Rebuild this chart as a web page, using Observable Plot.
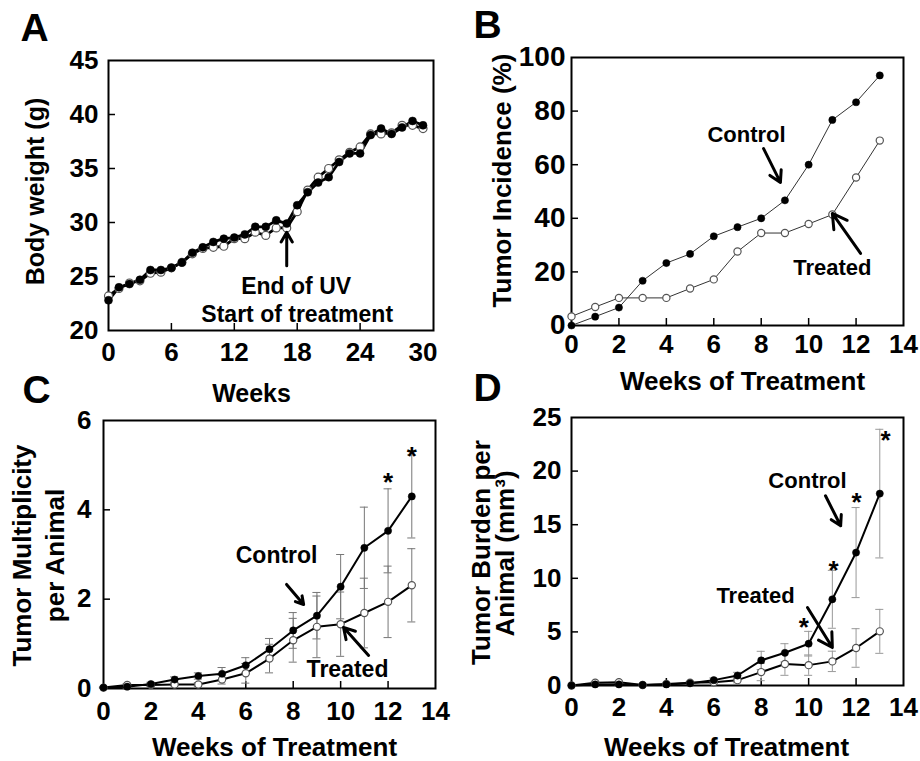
<!DOCTYPE html>
<html><head><meta charset="utf-8">
<script src="https://cdn.jsdelivr.net/npm/d3@7"></script>
<script src="https://cdn.jsdelivr.net/npm/@observablehq/plot@0.6"></script>
<style>
body{margin:0;background:#fff;}
#root{position:relative;width:920px;height:761px;overflow:hidden;background:#fff;}
#root svg{position:absolute;left:0;top:0;}
</style></head><body><div id="root"></div>
<script>
// ---------- Panel A: body weight ----------
const weeksA = [0,1,2,3,4,5,6,7,8,9,10,11,12,13,14,15,16,17,18,19,20,21,22,23,24,25,26,27,28,29,30];
const weightControl = [22.8,24.0,24.3,24.7,25.6,25.6,25.8,26.3,27.2,27.7,28.2,28.5,28.6,28.9,29.6,29.6,30.2,29.9,31.6,32.8,33.7,34.2,35.6,36.4,36.4,38.1,38.7,38.2,38.8,39.4,39.0];
const weightTreated = [23.2,23.9,24.4,24.6,25.3,25.4,25.8,26.3,27.1,27.6,27.7,27.8,28.5,28.5,29.1,28.8,29.5,29.5,31.0,33.0,34.2,35.0,35.8,36.5,37.0,38.2,38.2,38.3,39.0,39.0,38.7];
const xTicksA = [0,6,12,18,24,30];
const yTicksA = [20,25,30,35,40,45];

// ---------- Panels B-D: weeks of treatment ----------
const weeks = [0,1,2,3,4,5,6,7,8,9,10,11,12,13];
const incidenceControl = [0,3.3,6.7,16.7,23.3,26.7,33.3,36.7,40.0,46.7,60.0,76.7,83.3,93.3];
const incidenceTreated = [3.4,6.9,10.3,10.3,10.3,13.8,17.2,27.6,34.5,34.5,37.9,41.4,55.2,69.0];

const multiplicityControl = [0.02,0.04,0.10,0.20,0.28,0.33,0.52,0.88,1.30,1.63,2.28,3.15,3.53,4.30];
const multiplicityControlSem = [0.01,0.03,0.04,0.06,0.07,0.14,0.17,0.24,0.40,0.52,0.72,0.91,0.94,0.93];
const multiplicityTreated = [0.02,0.08,0.08,0.09,0.09,0.20,0.34,0.67,1.08,1.38,1.44,1.69,1.94,2.31];
const multiplicityTreatedSem = [0.01,0.03,0.03,0.03,0.04,0.10,0.22,0.32,0.49,0.69,0.72,0.78,0.80,0.82];

const burdenControl = [0,0.1,0.1,0.05,0.1,0.2,0.5,0.93,2.34,3.05,3.9,8.04,12.4,17.9];
const burdenControlSem = [0,0.05,0.05,0.03,0.05,0.1,0.2,0.3,0.85,0.85,1.15,2.7,4.2,6.0];
const burdenTreated = [0,0.25,0.3,0.05,0.15,0.25,0.3,0.5,1.25,2.0,1.9,2.25,3.5,5.05];
const burdenTreatedSem = [0,0.1,0.1,0.03,0.05,0.1,0.15,0.25,0.8,1.05,0.95,0.95,1.8,2.05];

const xTicksT = [0,2,4,6,8,10,12,14];
const yTicksB = [0,20,40,60,80,100];
const yTicksC = [0,2,4,6];
const yTicksD = [0,5,10,15,20,25];

// ---------- annotations (data coordinates) ----------
const notesA = [{x:17.9, y:23.4, text:"End of UV"}, {x:18.0, y:20.8, text:"Start of treatment"}];
const arrowsA = [{x1:17, y1:26.0, x2:17, y2:29.1}];
const notesB = [{x:7.38, y:68.3, text:"Control"}, {x:11.0, y:18.7, text:"Treated"}];
const arrowsB = [{x1:8.1, y1:66.0, x2:8.81, y2:53.4}, {x1:12.19, y1:26.9, x2:11.0, y2:41.8}];
const notesC = [{x:7.3, y:2.82, text:"Control"}, {x:10.29, y:0.25, text:"Treated"}];
const arrowsC = [{x1:7.72, y1:2.33, x2:8.44, y2:1.88}, {x1:11.18, y1:0.74, x2:10.12, y2:1.37}];
const starsC = [{x:12, y:4.75}, {x:13, y:5.33}];
const notesD = [{x:9.95, y:18.47, text:"Control"}, {x:7.76, y:7.65, text:"Treated"}];
const arrowsD = [{x1:10.71, y1:17.7, x2:11.35, y2:14.9}, {x1:9.95, y1:7.28, x2:11.0, y2:3.54}];
const starsD = [{x:9.8, y:6.06}, {x:11.05, y:11.38}, {x:12.02, y:17.72}, {x:13.24, y:23.5}];

// ---------- helpers ----------
const W = 920, H = 761;
const FONT = "'Liberation Sans', Arial, Helvetica, sans-serif";
const rows = (xs, ys, sem) => xs.map((x, i) => ({week: x, value: ys[i], sem: sem ? sem[i] : 0}));

function panel(cfg) {
  const [fx0, fy0, fx1, fy1] = cfg.frame;
  const y0 = cfg.yDomain[0], x0 = cfg.xDomain[0];
  const marks = [
    Plot.frame({stroke: "black", strokeWidth: 2}),
    Plot.ruleX(cfg.xInner, {x: d => d, y1: y0, y2: y0, insetTop: -7, stroke: "black", strokeWidth: 1.5}),
    Plot.ruleY(cfg.yInner, {y: d => d, x1: x0, x2: x0, insetRight: -7, stroke: "black", strokeWidth: 1.5}),
    Plot.axisX(cfg.xTicks, {anchor: "bottom", tickSize: 0, tickPadding: cfg.xPad, fontSize: 26, label: null}),
    Plot.axisY(cfg.yTicks, {anchor: "left", tickSize: 0, tickPadding: cfg.yPad, fontSize: cfg.yFont || 26, label: null}),
    Plot.text([cfg.letter], {text: d => d, frameAnchor: "top-left", dx: cfg.letterPos[0], dy: cfg.letterPos[1], textAnchor: "start", lineAnchor: "bottom", fontSize: 39}),
    Plot.text([cfg.xTitle], {text: d => d, frameAnchor: "bottom", dx: cfg.xTitlePos[0], dy: cfg.xTitlePos[1], textAnchor: "middle", lineAnchor: "middle", fontSize: cfg.xTitleFont || 26}),
    ...cfg.yTitles.map(t => Plot.text([t.text], {text: d => d, frameAnchor: "left", dx: t.dx, dy: t.dy, rotate: -90, textAnchor: "middle", lineAnchor: "middle", fontSize: t.size || 26})),
    ...cfg.marks
  ];
  return Plot.plot({
    width: W, height: H,
    marginLeft: fx0, marginRight: W - fx1, marginTop: fy0, marginBottom: H - fy1,
    x: {domain: cfg.xDomain, nice: false, label: null},
    y: {domain: cfg.yDomain, nice: false, label: null},
    style: {fontFamily: FONT, fontWeight: "bold", background: "transparent", color: "black", overflow: "visible"},
    marks
  });
}

function errorBars(data, color) {
  const d = data.filter(r => r.sem > 0);
  return [
    Plot.ruleX(d, {x: "week", y1: r => r.value - r.sem, y2: r => r.value + r.sem, stroke: color, strokeWidth: 1}),
    Plot.ruleY(d, {y: r => r.value + r.sem, x1: r => r.week - 0.17, x2: r => r.week + 0.17, stroke: color, strokeWidth: 1}),
    Plot.ruleY(d, {y: r => r.value - r.sem, x1: r => r.week - 0.17, x2: r => r.week + 0.17, stroke: color, strokeWidth: 1})
  ];
}
function series(ctrl, trt, lineW, lineColor, r) {
  return [
    Plot.line(trt, {x: "week", y: "value", stroke: lineColor, strokeWidth: lineW}),
    Plot.line(ctrl, {x: "week", y: "value", stroke: lineColor, strokeWidth: lineW}),
    Plot.dot(trt, {x: "week", y: "value", r, fill: "white", stroke: "#555", strokeWidth: 1.2}),
    Plot.dot(ctrl, {x: "week", y: "value", r, fill: "black", stroke: "black", strokeWidth: 0.5})
  ];
}
function notes(n, a, size) {
  return [
    Plot.text(n, {x: "x", y: "y", text: "text", textAnchor: "middle", lineAnchor: "bottom", fontSize: size}),
    Plot.arrow(a, {x1: "x1", y1: "y1", x2: "x2", y2: "y2", stroke: "black", strokeWidth: 3, headLength: 11})
  ];
}
const stars = s => Plot.text(s, {x: "x", y: "y", text: () => "*", textAnchor: "middle", lineAnchor: "bottom", dy: 15, fontSize: 26});

const root = document.getElementById("root");

// A
const aC = rows(weeksA, weightControl), aT = rows(weeksA, weightTreated);
root.append(panel({
  frame: [108, 60, 433, 330], xDomain: [0, 31], yDomain: [20, 45],
  xTicks: xTicksA, yTicks: yTicksA, xInner: [6,12,18,24], yInner: [25,30,35,40],
  xPad: 12, yPad: 10, letter: "A", letterPos: [-88, -20],
  xTitle: "Weeks", xTitlePos: [-19.5, 63], xTitleFont: 25,
  yTitles: [{text: "Body weight (g)", dx: -73, dy: -4, size: 25}],
  marks: [...series(aC, aT, 2.8, "black", 4), ...notes(notesA, arrowsA, 23)]
}));

// B
const bC = rows(weeks, incidenceControl), bT = rows(weeks, incidenceTreated);
root.append(panel({
  frame: [571, 57, 903, 325], xDomain: [0, 14], yDomain: [0, 100],
  xTicks: xTicksT, yTicks: yTicksB, xInner: [2,4,6,8,10,12], yInner: [20,40,60,80],
  xPad: 9, yPad: 6, yFont: 28, letter: "B", letterPos: [-98, -20],
  xTitle: "Weeks of Treatment", xTitlePos: [5, 56],
  yTitles: [{text: "Tumor Incidence (%)", dx: -69, dy: -11}],
  marks: [...series(bC, bT, 1, "#333", 3.6), ...notes(notesB, arrowsB, 22)]
}));

// C
const cC = rows(weeks, multiplicityControl, multiplicityControlSem), cT = rows(weeks, multiplicityTreated, multiplicityTreatedSem);
root.append(panel({
  frame: [103, 420, 435, 688], xDomain: [0, 14], yDomain: [0, 6],
  xTicks: xTicksT, yTicks: yTicksC, xInner: [2,4,6,8,10,12], yInner: [2,4],
  xPad: 13, yPad: 12, letter: "C", letterPos: [-81, -18],
  xTitle: "Weeks of Treatment", xTitlePos: [5, 59],
  yTitles: [{text: "Tumor Multiplicity", dx: -81, dy: 1}, {text: "per Animal", dx: -48, dy: 1}],
  marks: [...errorBars(cT, "#777"), ...errorBars(cC, "#777"), ...series(cC, cT, 2, "black", 3.6), ...notes(notesC, arrowsC, 23), stars(starsC)]
}));

// D
const dC = rows(weeks, burdenControl, burdenControlSem), dT = rows(weeks, burdenTreated, burdenTreatedSem);
root.append(panel({
  frame: [571, 417, 903, 685], xDomain: [0, 14], yDomain: [0, 25],
  xTicks: xTicksT, yTicks: yTicksD, xInner: [2,4,6,8,10,12], yInner: [5,10,15,20],
  xPad: 12, yPad: 10, letter: "D", letterPos: [-98, -17],
  xTitle: "Weeks of Treatment", xTitlePos: [-11, 62],
  yTitles: [{text: "Tumor Burden per", dx: -90, dy: 1}, {text: "Animal (mm³)", dx: -66, dy: 2}],
  marks: [...errorBars(dT, "#999"), ...errorBars(dC, "#999"), ...series(dC, dT, 2, "black", 3.6), ...notes(notesD, arrowsD, 22), stars(starsD)]
}));
</script></body></html>
